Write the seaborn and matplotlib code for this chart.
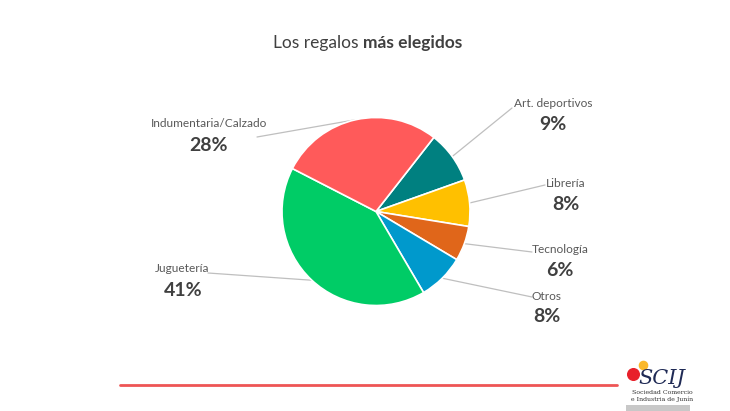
import numpy as np
import matplotlib
matplotlib.use("Agg")
import matplotlib.pyplot as plt
import seaborn as sns

# data
categorias = ["Art. deportivos", "Librería", "Tecnología", "Otros", "Juguetería", "Indumentaria/Calzado"]
porcentajes = [9, 8, 6, 8, 41, 28]
colores = ["#008080", "#FFC000", "#E0661A", "#0099CC", "#00CC66", "#FF5A5A"]

# label placement in pixels (x, y from top): name, percent, leader end
etiquetas = {
    "Art. deportivos": ((553, 103), (553, 124), (512, 108)),
    "Librería": ((566, 183), (566, 204), (545, 185)),
    "Tecnología": ((560, 249), (560, 270), (532, 252)),
    "Otros": ((547, 296), (547, 317), (532, 297)),
    "Juguetería": ((182, 268), (183, 291), (208, 273)),
    "Indumentaria/Calzado": ((209, 123), (209, 145), (257, 137)),
}
angulo_linea = {"Juguetería": 227}

sns.set_theme(style="white")
plt.rcParams["font.family"] = ["Lato", "DejaVu Sans"]

W, H = 730, 411
fig = plt.figure(figsize=(W / 100, H / 100), dpi=100)
ax = fig.add_axes([0, 0, 1, 1])

def py(y):
    return H - y

cx, cy, r = 376, py(211.5), 94
wedges, _ = ax.pie(porcentajes, colors=colores, startangle=52, counterclock=False,
                   center=(cx, cy), radius=r, frame=True,
                   wedgeprops=dict(edgecolor="white", linewidth=1.2))
ax.set_xlim(0, W)
ax.set_ylim(0, H)
ax.set_aspect("equal")
ax.axis("off")

for w, cat, val in zip(wedges, categorias, porcentajes):
    ang = angulo_linea.get(cat, (w.theta1 + w.theta2) / 2)
    x0 = cx + r * np.cos(np.radians(ang))
    y0 = cy + r * np.sin(np.radians(ang))
    (nx, ny), (px_, py_), (lx, ly) = etiquetas[cat]
    ax.plot([x0, lx], [y0, py(ly)], color="#BFBFBF", lw=0.9, zorder=0)
    ax.text(nx, py(ny), cat, ha="center", va="center", fontsize=8.6, color="#595959")
    ax.text(px_, py(py_), f"{val}%", ha="center", va="center", fontsize=14,
            fontweight="bold", color="#404040")

# title
ax.text(363, py(43), "Los regalos ", ha="right", va="center", fontsize=12.5, color="#404040")
ax.text(363, py(43), "más elegidos", ha="left", va="center", fontsize=12.5,
        fontweight="bold", color="#404040")

# footer line and logo
ax.plot([120, 617], [py(385.5), py(385.5)], color="#EE5555", lw=2)
ax.scatter([633], [py(374)], marker="o", s=70, color="#E8202A", zorder=3)
ax.scatter([643], [py(365)], marker="o", s=35, color="#FBB829", zorder=3)
ax.text(662, py(379), "SCIJ", ha="center", va="center", fontsize=15, family="DejaVu Serif",
        style="italic", color="#1F2A55")
ax.text(662, py(393), "Sociedad Comercio", ha="center", va="center", fontsize=4.5,
        family="DejaVu Serif", color="#333333")
ax.text(662, py(399), "e Industria de Junín", ha="center", va="center", fontsize=4.5,
        family="DejaVu Serif", color="#333333")
ax.add_patch(plt.Rectangle((626, py(411)), 64, 6, color="#C8C8C8", lw=0))

fig.savefig("out.png", dpi=100)
